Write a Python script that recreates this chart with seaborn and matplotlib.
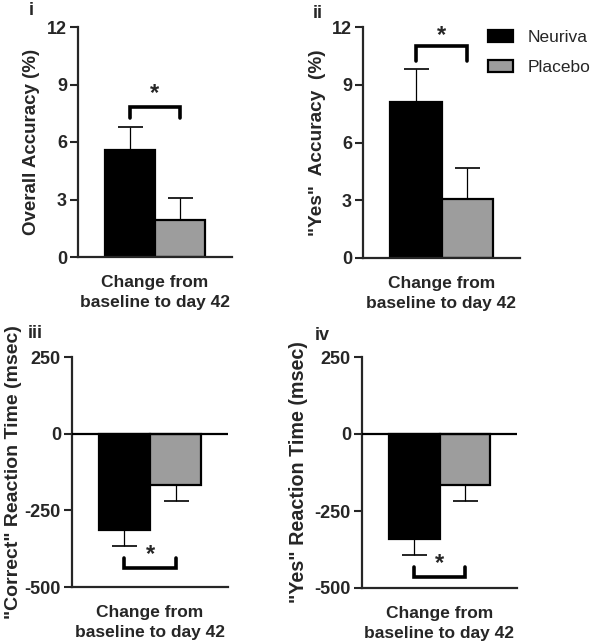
import numpy as np
import pandas as pd
import matplotlib
matplotlib.use('Agg')
import matplotlib.pyplot as plt
import seaborn as sns
from matplotlib.patches import Patch

# Data (mean change and SEM)
period = ['Change from\nbaseline to day 42']
groups = ['Neuriva', 'Placebo']
colors = {'Neuriva': 'black', 'Placebo': '#9d9d9d'}

overall_acc = [5.6, 1.95]
overall_acc_sem = [1.2, 1.15]
yes_acc = [8.1, 3.05]
yes_acc_sem = [1.7, 1.65]
correct_rt = [-315, -168]
correct_rt_sem = [52, 52]
yes_rt = [-340, -165]
yes_rt_sem = [52, 52]

acc_ticks = [0, 3, 6, 9, 12]
rt_ticks = [-500, -250, 0, 250]

# significance brackets: (bar level, leg end level, star level)
brackets = {
    'i': (7.85, 7.25, 8.55),
    'ii': (11.0, 10.25, 11.55),
    'iii': (-438, -404, -393),
    'iv': (-465, -432, -421),
}

sns.set_style('ticks')
plt.rcParams['font.family'] = ['Liberation Sans', 'DejaVu Sans']
plt.rcParams['font.weight'] = 'bold'
plt.rcParams['axes.unicode_minus'] = False

fig = plt.figure(figsize=(5.97, 6.42), dpi=100)
W, H = 597, 642

def add_ax(l, t, r, b):
    return fig.add_axes([l / W, 1 - b / H, (r - l) / W, (b - t) / H])

panels = [
    ('i', add_ax(78, 27, 232, 257), overall_acc, overall_acc_sem, 'Overall Accuracy (%)', 13.5, 5, acc_ticks, 1),
    ('ii', add_ax(363, 27, 520, 258), yes_acc, yes_acc_sem, '"Yes"  Accuracy  (%)', 13.7, 4, acc_ticks, 1),
    ('iii', add_ax(72, 357, 228, 587), correct_rt, correct_rt_sem, '"Correct" Reaction Time (msec)', 14.0, 1.5, rt_ticks, -1),
    ('iv', add_ax(362, 357, 517, 588), yes_rt, yes_rt_sem, '"Yes" Reaction Time (msec)', 14.2, 5, rt_ticks, -1),
]

for name, ax, means, sems, ylabel, ysize, ypad, ticks, sign in panels:
    df = pd.DataFrame({'period': period * len(groups), 'group': groups, 'value': means})
    sns.barplot(data=df, x='period', y='value', hue='group', hue_order=groups,
                palette=colors, edgecolor='black', linewidth=1.6, errorbar=None,
                legend=False, ax=ax)
    centers = [p.get_x() + p.get_width() / 2 for p in ax.patches[:len(groups)]]
    for cx, m, s in zip(centers, means, sems):
        yerr = [[0], [s]] if sign > 0 else [[s], [0]]
        ax.errorbar(cx, m, yerr=yerr, fmt='none', ecolor='black', elinewidth=0.9,
                    capsize=9, capthick=1.2, zorder=1)
    ax.set_xlim(-0.61, 0.61)
    ax.set_ylim(min(ticks), max(ticks))
    ax.set_yticks(ticks)
    ax.set_yticklabels([str(t) for t in ticks], fontsize=13, fontweight='bold')
    ax.set_xlabel('')
    ax.set_ylabel(ylabel, fontsize=ysize, fontweight='bold', labelpad=ypad)
    ax.tick_params(axis='y', length=6, width=1.5, pad=2)
    ax.tick_params(axis='x', length=0, pad=13)
    for lab in ax.get_xticklabels():
        lab.set_fontsize(12.5)
        lab.set_fontweight('bold')
        lab.set_linespacing(1.4)
    for sp in ['top', 'right']:
        ax.spines[sp].set_visible(False)
    for sp in ['left', 'bottom']:
        ax.spines[sp].set_linewidth(1.6)
    if sign < 0:
        ax.axhline(0, color='black', lw=1.6, zorder=3)
    y_bar, y_leg, y_star = brackets[name]
    ax.plot([centers[0], centers[0], centers[1], centers[1]],
            [y_leg, y_bar, y_bar, y_leg], color='black', lw=2.6,
            solid_joinstyle='miter', clip_on=False)
    ax.text(np.mean(centers), y_star, '*', ha='center', va='center',
            fontsize=17, fontweight='bold')

# panel letters
fig.text(29 / W, 1 - 15 / H, 'i', fontsize=13, fontweight='bold', va='baseline')
fig.text(313 / W, 1 - 18 / H, 'ii', fontsize=13, fontweight='bold', va='baseline')
fig.text(28 / W, 1 - 338 / H, 'iii', fontsize=13, fontweight='bold', va='baseline')
fig.text(315 / W, 1 - 340 / H, 'iv', fontsize=13, fontweight='bold', va='baseline')

# legend
handles = [Patch(facecolor=colors[g], edgecolor='black', linewidth=1.6, label=g) for g in groups]
fig.legend(handles=handles, loc='upper left', bbox_to_anchor=(488 / W, 1 - 30 / H),
           frameon=False, prop={'size': 12.5, 'weight': 'normal'},
           handlelength=1.45, handleheight=0.7, handletextpad=0.85,
           labelspacing=0.85, borderpad=0, borderaxespad=0)

fig.savefig('out.png', dpi=100)
